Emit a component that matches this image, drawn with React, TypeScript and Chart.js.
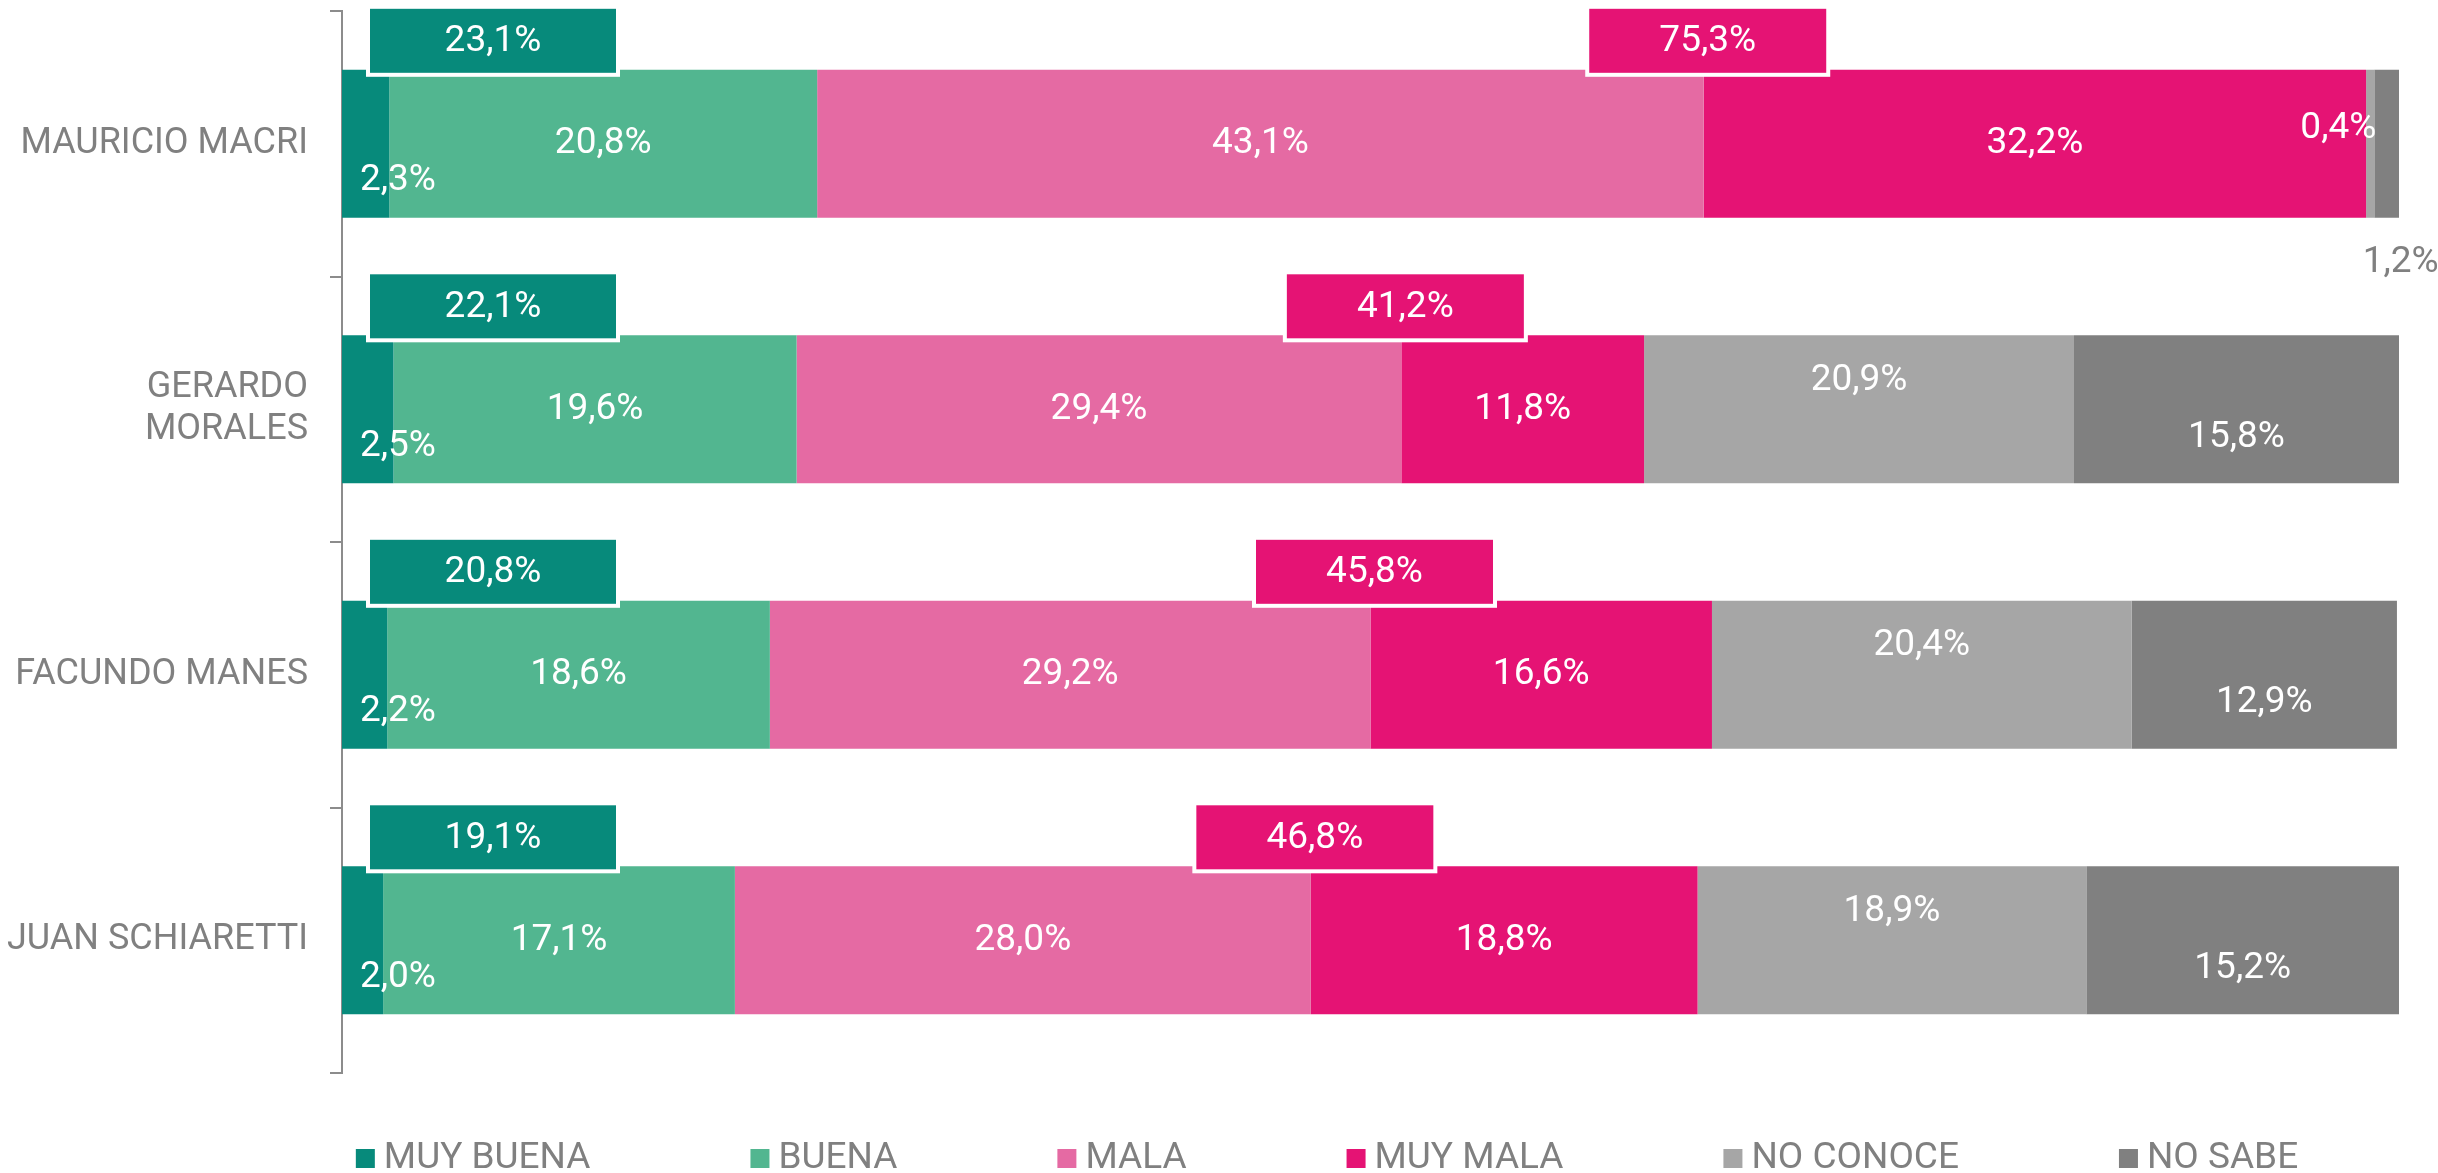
import React, { useEffect, useRef } from "react";
import { Chart, registerables } from "chart.js";

Chart.register(...registerables);

const categories: (string | string[])[] = [
  "MAURICIO MACRI",
  ["GERARDO", "MORALES"],
  "FACUNDO MANES",
  "JUAN SCHIARETTI",
];
const seriesNames = ["MUY BUENA", "BUENA", "MALA", "MUY MALA", "NO CONOCE", "NO SABE"];
const muyBuena = [2.3, 2.5, 2.2, 2.0];
const buena = [20.8, 19.6, 18.6, 17.1];
const mala = [43.1, 29.4, 29.2, 28.0];
const muyMala = [32.2, 11.8, 16.6, 18.8];
const noConoce = [0.4, 20.9, 20.4, 18.9];
const noSabe = [1.2, 15.8, 12.9, 15.2];
const seriesColors = ["#078A7B", "#52B690", "#E56AA3", "#E51374", "#A6A6A6", "#808080"];

const FONT = "Roboto, 'Open Sans', sans-serif";
const fmt = (v: number) => v.toFixed(1).replace(".", ",") + "%";

const overlayPlugin = {
  id: "overlay",
  afterDatasetsDraw(chart: any) {
    const ctx = chart.ctx;
    ctx.save();
    ctx.font = `37px ${FONT}`;
    ctx.textBaseline = "middle";
    const n = chart.data.labels.length;
    const dsets = chart.data.datasets;
    for (let i = 0; i < n; i++) {
      let barTop = 0;
      dsets.forEach((ds: any, d: number) => {
        const bar = chart.getDatasetMeta(d).data[i];
        const p = bar.getProps(["x", "y", "base", "height"], true);
        const left = Math.min(p.x, p.base);
        const right = Math.max(p.x, p.base);
        const top = p.y - p.height / 2;
        const bottom = p.y + p.height / 2;
        barTop = top;
        const text = fmt(ds.data[i]);
        const tw = ctx.measureText(text).width;
        const w = right - left;
        ctx.fillStyle = "#ffffff";
        if (d === 0) {
          ctx.textAlign = "left";
          ctx.fillText(text, left + 18, p.y + 37);
        } else if (w < tw + 8) {
          if (d === 4) {
            ctx.textAlign = "right";
            ctx.fillText(text, right + 2, p.y - 15);
          } else {
            ctx.fillStyle = "#808080";
            ctx.textAlign = "center";
            ctx.fillText(text, (left + right) / 2 + 14, bottom + 45);
          }
        } else {
          const dy = d === 4 ? -29 : d === 5 ? 28 : 0;
          ctx.textAlign = "center";
          ctx.fillText(text, (left + right) / 2, p.y + dy);
        }
      });
      // summary boxes
      const good = dsets[0].data[i] + dsets[1].data[i];
      const bad = dsets[2].data[i] + dsets[3].data[i];
      const malaBar = chart.getDatasetMeta(2).data[i];
      const boundary = malaBar.getProps(["x"], true).x;
      const boxes = [
        { cx: chart.chartArea.left + 151, w: 250, color: dsets[0].backgroundColor, v: good },
        { cx: boundary + 4, w: 241, color: dsets[3].backgroundColor, v: bad },
      ];
      const h = 68;
      boxes.forEach((b) => {
        const bx = b.cx - b.w / 2;
        const by = barTop + 5 - h;
        ctx.fillStyle = b.color;
        ctx.fillRect(bx, by, b.w, h);
        ctx.strokeStyle = "#ffffff";
        ctx.lineWidth = 4;
        ctx.strokeRect(bx, by, b.w, h);
        ctx.fillStyle = "#ffffff";
        ctx.textAlign = "center";
        ctx.fillText(fmt(b.v), b.cx, by + h / 2 + 1);
      });
    }
    ctx.restore();
  },
  afterDraw(chart: any) {
    const ctx = chart.ctx;
    ctx.save();
    ctx.font = `37px ${FONT}`;
    const dsets = chart.data.datasets;
    const box = 19;
    const gapText = 9;
    const gapItem = 160;
    const widths = dsets.map((ds: any) => box + gapText + ctx.measureText(ds.label).width);
    const total = widths.reduce((a: number, b: number) => a + b, 0) + gapItem * (dsets.length - 1);
    let x = 1327 - total / 2;
    const base = 1168;
    dsets.forEach((ds: any, d: number) => {
      ctx.fillStyle = ds.backgroundColor;
      ctx.fillRect(x, base - box, box, box);
      ctx.fillStyle = "#808080";
      ctx.textAlign = "left";
      ctx.textBaseline = "alphabetic";
      ctx.fillText(ds.label, x + box + gapText, base);
      x += widths[d] + gapItem;
    });
    ctx.restore();
  },
};

export default function App() {
  const ref = useRef<HTMLCanvasElement | null>(null);
  useEffect(() => {
    document.body.style.margin = "0";
    if (!ref.current) return;
    const values = [muyBuena, buena, mala, muyMala, noConoce, noSabe];
    const chart = new Chart(ref.current, {
      type: "bar",
      data: {
        labels: categories,
        datasets: seriesNames.map((name, k) => ({
          label: name,
          data: values[k],
          backgroundColor: seriesColors[k],
          borderWidth: 0,
          categoryPercentage: 1,
          barPercentage: 0.557,
        })),
      },
      options: {
        indexAxis: "y",
        responsive: false,
        animation: false,
        devicePixelRatio: 1,
        layout: { padding: { left: 0, right: 39, top: 11, bottom: 100 } },
        plugins: { legend: { display: false }, tooltip: { enabled: false } },
        scales: {
          x: { stacked: true, min: 0, max: 100, display: false },
          y: {
            stacked: true,
            grid: {
              drawOnChartArea: false,
              drawTicks: true,
              tickLength: 12,
              color: "#8c8c8c",
              lineWidth: 2,
              offset: true,
            },
            border: { display: true, color: "#8c8c8c", width: 2 },
            ticks: {
              color: "#808080",
              padding: 22,
              font: { family: FONT, size: 36, lineHeight: 1.17 },
            },
            afterFit: (s: any) => {
              s.width = 342;
              s.paddingTop = 0;
              s.paddingBottom = 0;
            },
          },
        },
      },
      plugins: [overlayPlugin],
    } as any);
    return () => chart.destroy();
  }, []);
  return (
    <div style={{ width: 2438, height: 1173 }}>
      <canvas ref={ref} width={2438} height={1173} style={{ display: "block" }} />
    </div>
  );
}
